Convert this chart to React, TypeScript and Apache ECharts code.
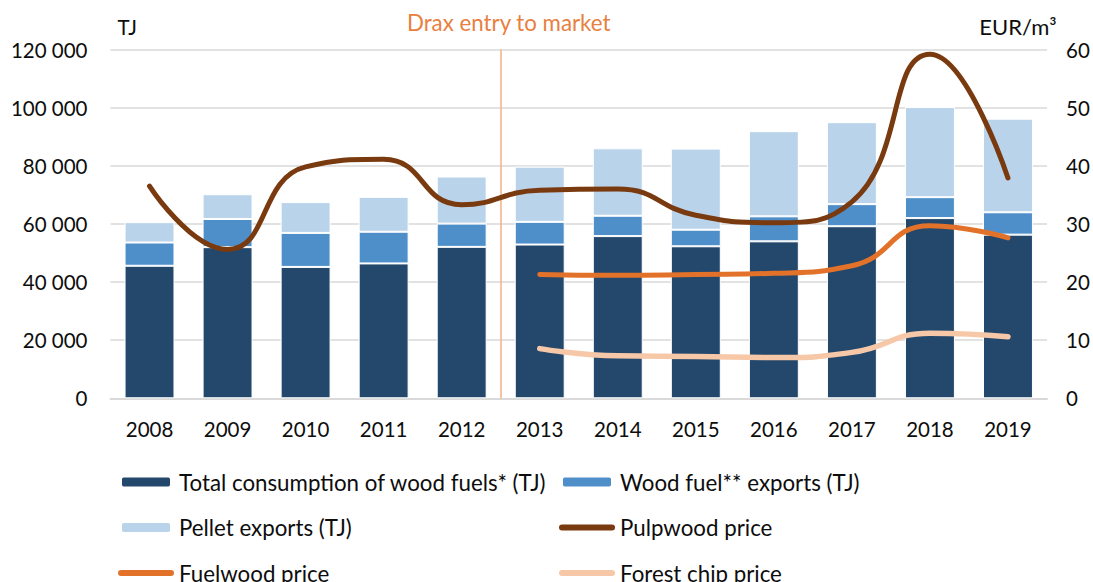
import React, { useEffect, useRef } from "react";
import * as echarts from "echarts";

const years = ["2008", "2009", "2010", "2011", "2012", "2013", "2014", "2015", "2016", "2017", "2018", "2019"];
const consumption = [45600, 52000, 45200, 46400, 52100, 52900, 55800, 52300, 54000, 59200, 62000, 56300];
const woodFuelExports = [8000, 9700, 11700, 10900, 8000, 7800, 7000, 5700, 8600, 7600, 7200, 7700];
const pelletExports = [7000, 8500, 10600, 12000, 16200, 19000, 23200, 27900, 29300, 28200, 31000, 32200];
const pulpwoodPrice = [36.5, 25.6, 39.8, 41.1, 33.3, 35.8, 36.0, 31.5, 30.2, 33.8, 59.2, 37.9];
const fuelwoodPrice = [null, null, null, null, null, 21.3, 21.15, 21.3, 21.5, 22.8, 29.7, 27.6];
const forestChipPrice = [null, null, null, null, null, 8.55, 7.3, 7.2, 7.0, 7.9, 11.2, 10.6];
const draxEntryPosition = 5; // boundary between 2012 and 2013 (index units)

const FONT = "Lato";
const TXT = "#0d0d0d";
const FS = 20.5;

function fmtThousands(v: number): string {
  return String(v).replace(/\B(?=(\d{3})+(?!\d))/g, " ");
}

const lineLegendItem = (name: string, color: string) => ({
  name,
  itemStyle: { opacity: 0 },
  lineStyle: { color, width: 6, cap: "round" },
});

export default function App() {
  const ref = useRef<HTMLDivElement>(null);
  useEffect(() => {
    if (!ref.current) return;
    const chart = echarts.init(ref.current, undefined, { renderer: "svg" });
    const lineCommon = {
      type: "line" as const,
      yAxisIndex: 1,
      smooth: 0.5,
      symbol: "none",
      showSymbol: false,
      connectNulls: false,
      z: 5,
    };
    const legendCommon = {
      orient: "vertical" as const,
      top: 466,
      height: 120,
      itemWidth: 50,
      itemHeight: 11,
      itemGap: 23.5,
      textStyle: { fontFamily: FONT, fontSize: 22.3, color: TXT, lineHeight: 20, padding: [0, 0, 0, 3] },
    };
    chart.setOption({
      animation: false,
      textStyle: { fontFamily: FONT },
      grid: { left: 110.5, right: 46, top: 49.5, bottom: 183.7, containLabel: false },
      legend: [
        {
          ...legendCommon,
          left: 113,
          data: [
            "Total consumption of wood fuels* (TJ)",
            "Pellet exports (TJ)",
            lineLegendItem("Fuelwood price", "#e2722a"),
          ],
        },
        {
          ...legendCommon,
          left: 554,
          data: [
            "Wood fuel** exports (TJ)",
            lineLegendItem("Pulpwood price", "#7a3a10"),
            lineLegendItem("Forest chip price", "#f6c8a8"),
          ],
        },
      ],
      xAxis: [
        {
          type: "category",
          data: years,
          axisLine: { lineStyle: { color: "#d9d9d9", width: 2 } },
          axisTick: { show: false },
          axisLabel: { color: TXT, fontSize: FS, fontFamily: FONT, margin: 20 },
        },
        { type: "value", min: 0, max: 12, show: false },
      ],
      yAxis: [
        {
          type: "value",
          min: 0,
          max: 120000,
          interval: 20000,
          name: "TJ",
          nameLocation: "end",
          nameGap: 12,
          nameTextStyle: { color: TXT, fontSize: FS, fontFamily: FONT, align: "left", padding: [0, 0, 0, 7] },
          axisLine: { show: false },
          axisTick: { show: false },
          splitLine: { lineStyle: { color: "#d9d9d9", width: 1.5 } },
          axisLabel: { color: TXT, fontSize: FS, fontFamily: FONT, margin: 23, formatter: (v: number) => fmtThousands(v) },
        },
        {
          type: "value",
          min: 0,
          max: 60,
          interval: 10,
          position: "right",
          name: "EUR/m³",
          nameLocation: "end",
          nameGap: 12,
          nameTextStyle: { color: TXT, fontSize: 22, fontFamily: FONT, align: "center", padding: [0, 58, 0, 0] },
          axisLine: { show: false },
          axisTick: { show: false },
          splitLine: { show: false },
          axisLabel: { color: TXT, fontSize: FS, fontFamily: FONT, margin: 19 },
        },
      ],
      series: [
        {
          name: "Total consumption of wood fuels* (TJ)",
          type: "bar",
          stack: "tj",
          barCategoryGap: "36%",
          data: consumption,
          itemStyle: { color: "#23486c", borderColor: "#ffffff", borderWidth: 1 },
        },
        {
          name: "Wood fuel** exports (TJ)",
          type: "bar",
          stack: "tj",
          data: woodFuelExports,
          itemStyle: { color: "#4e8fca", borderColor: "#ffffff", borderWidth: 1 },
        },
        {
          name: "Pellet exports (TJ)",
          type: "bar",
          stack: "tj",
          data: pelletExports,
          itemStyle: { color: "#b9d3ea", borderColor: "#ffffff", borderWidth: 1 },
        },
        {
          ...lineCommon,
          name: "Pulpwood price",
          data: pulpwoodPrice,
          lineStyle: { color: "#7a3a10", width: 5, cap: "round" },
          itemStyle: { color: "#7a3a10" },
        },
        {
          ...lineCommon,
          name: "Fuelwood price",
          data: fuelwoodPrice,
          lineStyle: { color: "#e2722a", width: 5, cap: "round" },
          itemStyle: { color: "#e2722a" },
        },
        {
          ...lineCommon,
          name: "Forest chip price",
          data: forestChipPrice,
          lineStyle: { color: "#f6c8a8", width: 5.5, cap: "round" },
          itemStyle: { color: "#f6c8a8" },
        },
        {
          name: "drax",
          type: "line",
          xAxisIndex: 1,
          yAxisIndex: 0,
          data: [],
          silent: true,
          z: 1,
          markLine: {
            silent: true,
            symbol: ["none", "none"],
            lineStyle: { color: "#f4b183", width: 1.5, type: "solid" },
            label: {
              show: true,
              position: "end",
              distance: 16,
              formatter: "Drax entry to market",
              color: "#e8803f",
              fontSize: 22.3,
              fontFamily: FONT,
              padding: [0, 0, 0, 16],
            },
            data: [{ xAxis: draxEntryPosition }],
          },
        },
      ],
    });
    return () => chart.dispose();
  }, []);
  return (
    <div
      ref={ref}
      style={{ position: "absolute", left: 0, top: 0, width: 1093, height: 582, background: "#fff" }}
    />
  );
}
